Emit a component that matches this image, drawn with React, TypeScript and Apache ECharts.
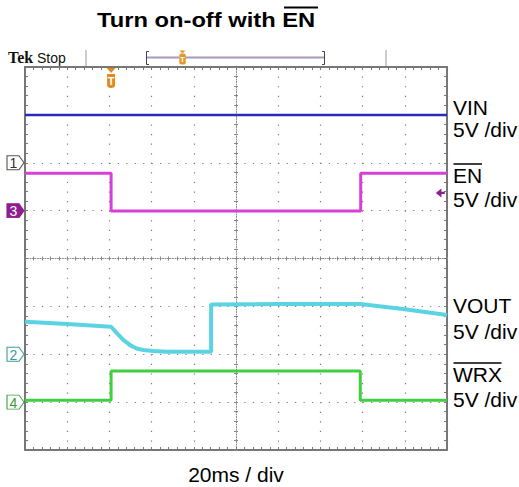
import React, { useEffect, useRef } from "react";
import * as echarts from "echarts";

// ---- Data (time in ms, level in screen divisions from the bottom, 8 divisions) ----
const timeRange = [0, 200]; // 20 ms / div, 10 divisions
const levelRange = [0, 8];

const vinData: [number, number][] = [
  [0, 7.0],
  [200, 7.0],
];

const enData: [number, number][] = [
  [0, 5.78],
  [40.8, 5.78],
  [40.8, 4.99],
  [159.1, 4.99],
  [159.1, 5.78],
  [200, 5.78],
];

const voutData: [number, number][] = [
  [0, 2.68],
  [20, 2.63],
  [40.8, 2.575],
  [43.5, 2.44],
  [46.6, 2.3],
  [49.8, 2.19],
  [52.9, 2.12],
  [56.1, 2.09],
  [60.8, 2.07],
  [67.2, 2.05],
  [88.2, 2.05],
  [88.2, 3.04],
  [120, 3.05],
  [158.8, 3.05],
  [180, 2.94],
  [200, 2.82],
];

const wrxData: [number, number][] = [
  [0, 1.04],
  [40.8, 1.04],
  [40.8, 1.65],
  [158.9, 1.65],
  [158.9, 1.04],
  [200, 1.04],
];

const triggerTime = 40.8;
const triggerLevel = 5.37;

// channel ground reference markers
const groundMarkers: { label: string; level: number }[] = [
  { label: "1", level: 6 },
  { label: "3", level: 5 },
  { label: "2", level: 2 },
  { label: "4", level: 1 },
];

const titleText = "Turn on-off with ";
const titleOver = "EN";
const xUnitLabel = "20ms / div";
const rightLabels: { text: string; over: boolean }[] = [
  { text: "VIN", over: false },
  { text: "5V /div", over: false },
  { text: "EN", over: true },
  { text: "5V /div", over: false },
  { text: "VOUT", over: false },
  { text: "5V /div", over: false },
  { text: "WRX", over: true },
  { text: "5V /div", over: false },
];

const FONT = '"Liberation Sans", Arial, Helvetica, sans-serif';
const BORDER = "#777777";
const DOT = "#7a7a7a";

const markerSymbol = "path://M0,0L12,0L17,7L12,14L0,14Z";

function markerItem(label: string, level: number, style: { fill: string; border: string; text: string }) {
  return {
    coord: [timeRange[0], level],
    symbol: markerSymbol,
    symbolSize: [17, 14],
    symbolOffset: [-9.5, 0],
    itemStyle: { color: style.fill, borderColor: style.border, borderWidth: 1 },
    label: {
      show: true,
      position: "inside",
      formatter: label,
      color: style.text,
      fontSize: 14,
      fontFamily: FONT,
      offset: [-2, 0.5],
    },
  };
}

export default function App() {
  const ref = useRef<HTMLDivElement>(null);

  useEffect(() => {
    if (!ref.current) return;
    const chart = echarts.init(ref.current, undefined, { renderer: "svg" });

    const gridLeft = 25;
    const gridTop = 67;
    const gridW = 422;
    const gridH = 383;

    const mainAxisCommon = {
      type: "value" as const,
      axisLine: { show: true, onZero: false, lineStyle: { color: BORDER, width: 2 } },
      axisTick: { show: true, inside: true, length: 3, lineStyle: { color: BORDER, width: 1 } },
      minorTick: { show: true, splitNumber: 5, length: 3, lineStyle: { color: BORDER, width: 1 } },
      axisLabel: { show: false },
      silent: true,
    };
    const centerAxisCommon = {
      type: "value" as const,
      axisLine: { show: true, onZero: false, lineStyle: { color: "#888888", width: 1, type: [1, 1.5] } },
      axisTick: { show: true, inside: true, length: 2, lineStyle: { color: "#888888", width: 1 } },
      minorTick: { show: true, splitNumber: 5, length: 2, lineStyle: { color: "#888888", width: 1 } },
      axisLabel: { show: false },
      splitLine: { show: false },
      silent: true,
    };

    const xCommon = { min: timeRange[0], max: timeRange[1], interval: 20 };
    const yCommon = { min: levelRange[0], max: levelRange[1], interval: 1 };

    const seriesBase = {
      type: "line" as const,
      showSymbol: false,
      symbol: "none",
      silent: true,
      clip: false,
      xAxisIndex: 0,
      yAxisIndex: 0,
    };

    const graphics: any[] = [];
    // title
    graphics.push({
      type: "text",
      x: 97,
      y: 19.5,
      scaleX: 1.13,
      style: {
        text: titleText + titleOver,
        font: `bold 21px ${FONT}`,
        fill: "#000",
        textAlign: "left",
        textVerticalAlign: "middle",
      },
    });
    graphics.push({
      type: "line",
      shape: { x1: 284, y1: 7.5, x2: 318, y2: 7.5 },
      style: { stroke: "#000", lineWidth: 2 },
    });
    // right labels
    const labelY = [107.5, 129.5, 175.5, 199, 305, 331, 374.5, 399];
    const overWidth: Record<string, number> = { EN: 28.5, WRX: 48 };
    rightLabels.forEach((l, i) => {
      graphics.push({
        type: "text",
        x: 453,
        y: labelY[i],
        style: {
          text: l.text,
          font: `21px ${FONT}`,
          fill: "#000",
          textAlign: "left",
          textVerticalAlign: "middle",
        },
      });
      if (l.over) {
        const oy = labelY[i] - 11.5;
        graphics.push({
          type: "line",
          shape: { x1: 453.5, y1: oy, x2: 453.5 + overWidth[l.text], y2: oy },
          style: { stroke: "#000", lineWidth: 1.5 },
        });
      }
    });
    // x unit label
    graphics.push({
      type: "text",
      x: 236,
      y: 474,
      style: {
        text: xUnitLabel,
        font: `21px ${FONT}`,
        fill: "#000",
        textAlign: "center",
        textVerticalAlign: "middle",
      },
    });
    // top status bar
    graphics.push({
      type: "text",
      x: 8,
      y: 57.5,
      style: { text: "Tek", font: 'bold 16px "Liberation Serif", serif', fill: "#111", textVerticalAlign: "middle" },
    });
    graphics.push({
      type: "text",
      x: 37,
      y: 57.5,
      style: { text: "Stop", font: `14px ${FONT}`, fill: "#111", textVerticalAlign: "middle" },
    });
    graphics.push({ type: "line", shape: { x1: 86, y1: 50, x2: 86, y2: 66 }, style: { stroke: "#999", lineWidth: 1 } });
    graphics.push({ type: "line", shape: { x1: 386, y1: 50, x2: 386, y2: 66 }, style: { stroke: "#999", lineWidth: 1 } });
    graphics.push({
      type: "line",
      shape: { x1: 146, y1: 57.5, x2: 325, y2: 57.5 },
      style: { stroke: "#a898bc", lineWidth: 2 },
    });
    graphics.push({
      type: "polyline",
      shape: { points: [[149, 51.5], [146.5, 51.5], [146.5, 64.5], [149, 64.5]] },
      style: { stroke: "#444", lineWidth: 1, fill: null },
    });
    graphics.push({
      type: "polyline",
      shape: { points: [[322, 51.5], [324.5, 51.5], [324.5, 64.5], [322, 64.5]] },
      style: { stroke: "#444", lineWidth: 1, fill: null },
    });
    graphics.push({
      type: "polygon",
      shape: { points: [[179.5, 50.5], [185.5, 50.5], [182.5, 53.5]] },
      style: { fill: "#e8962a" },
    });
    graphics.push({
      type: "rect",
      shape: { x: 179.3, y: 53.5, width: 6.5, height: 11, r: 2 },
      style: { fill: "#e8962a" },
    });
    graphics.push({
      type: "text",
      x: 182.5,
      y: 59.5,
      style: { text: "T", font: `bold 8px ${FONT}`, fill: "#fff", textAlign: "center", textVerticalAlign: "middle" },
    });

    const option: any = {
      animation: false,
      backgroundColor: "#ffffff",
      grid: { left: gridLeft, top: gridTop, width: gridW, height: gridH, containLabel: false },
      xAxis: [
        {
          ...mainAxisCommon,
          ...xCommon,
          position: "bottom",
          splitLine: { show: true, lineStyle: { color: DOT, width: 1.2, type: [1.2, 8.375] } },
        },
        { ...mainAxisCommon, ...xCommon, position: "top", splitLine: { show: false } },
        { ...centerAxisCommon, ...xCommon, position: "bottom", offset: -gridH / 2 },
        { ...centerAxisCommon, ...xCommon, position: "top", offset: -gridH / 2, axisLine: { show: false, onZero: false } },
      ],
      yAxis: [
        {
          ...mainAxisCommon,
          ...yCommon,
          position: "left",
          splitLine: { show: true, lineStyle: { color: DOT, width: 1.2, type: [1.2, 7.24] } },
        },
        { ...mainAxisCommon, ...yCommon, position: "right", splitLine: { show: false } },
        { ...centerAxisCommon, ...yCommon, position: "left", offset: -gridW / 2 },
        { ...centerAxisCommon, ...yCommon, position: "right", offset: -gridW / 2, axisLine: { show: false, onZero: false } },
      ],
      series: [
        {
          ...seriesBase,
          name: "VIN",
          data: vinData,
          lineStyle: { color: "#2a2ab8", width: 2.5 },
          markPoint: {
            silent: true,
            animation: false,
            data: [markerItem("1", groundMarkers[0].level, { fill: "#ffffff", border: "#555555", text: "#333333" })],
          },
        },
        {
          ...seriesBase,
          name: "EN",
          data: enData,
          lineStyle: { color: "#d540d6", width: 3 },
          markPoint: {
            silent: true,
            animation: false,
            data: [
              markerItem("3", groundMarkers[1].level, { fill: "#8e1e90", border: "#8e1e90", text: "#ffffff" }),
              {
                coord: [triggerTime, levelRange[1]],
                symbol: "path://M0,0L9,0L4.5,5Z M0.5,6L8.5,6L8.5,17Q8.5,20 4.5,20Q0.5,20 0.5,17Z",
                symbolSize: [9, 20],
                symbolOffset: [0, 11],
                itemStyle: { color: "#e48a1c" },
                label: {
                  show: true,
                  position: "inside",
                  formatter: "T",
                  color: "#ffffff",
                  fontSize: 11,
                  fontWeight: "bold",
                  fontFamily: FONT,
                  offset: [0, 3],
                },
              },
              {
                coord: [timeRange[1], triggerLevel],
                symbol: "path://M0,4L5,0L5,3L8,3L8,5L5,5L5,8Z",
                symbolSize: [9, 9],
                symbolOffset: [-6.7, 0],
                itemStyle: { color: "#8e1e90" },
                label: { show: false },
              },
            ],
          },
        },
        {
          ...seriesBase,
          name: "VOUT",
          data: voutData,
          lineStyle: { color: "#5bd3e3", width: 4 },
          markPoint: {
            silent: true,
            animation: false,
            data: [markerItem("2", groundMarkers[2].level, { fill: "#ffffff", border: "#3e9e9e", text: "#3a9a9a" })],
          },
        },
        {
          ...seriesBase,
          name: "WRX",
          data: wrxData,
          lineStyle: { color: "#40cf40", width: 3 },
          markPoint: {
            silent: true,
            animation: false,
            data: [markerItem("4", groundMarkers[3].level, { fill: "#ffffff", border: "#3e9e3e", text: "#3a963a" })],
          },
        },
      ],
      graphic: graphics,
    };

    chart.setOption(option);
    return () => chart.dispose();
  }, []);

  return (
    <div
      ref={ref}
      style={{ position: "absolute", left: 0, top: 0, width: 519, height: 487, background: "#fff" }}
    />
  );
}
